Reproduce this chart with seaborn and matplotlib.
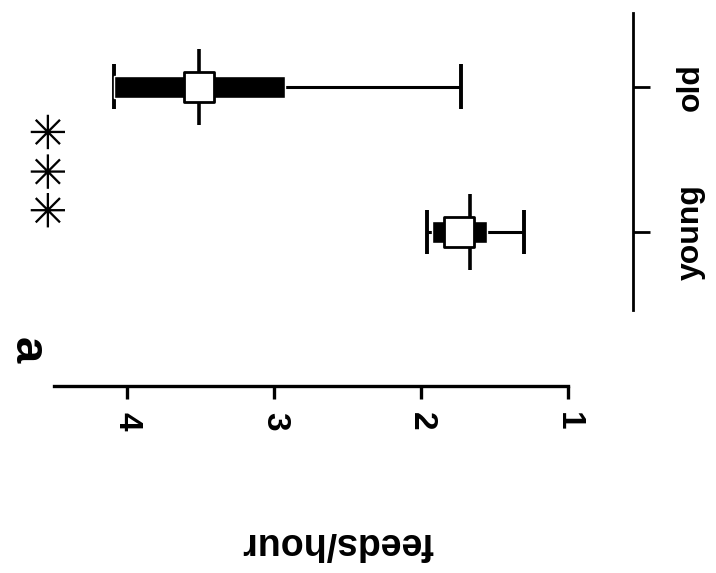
import matplotlib
matplotlib.use("Agg")
import matplotlib.pyplot as plt
import numpy as np
import pandas as pd
import seaborn as sns

# Feeding rate per group (feeds/hour)
groups = ["young", "old"]
means = [1.74, 3.51]
sds = [0.187, 0.58]
medians = [1.67, 3.51]
mins = [1.30, 1.73]
maxs = [1.96, 4.09]
value_ticks = [1, 2, 3, 4]
signif_label = "✳✳✳"
panel_label = "a"
axis_label = "feeds/hour"

df = pd.DataFrame({"group": groups, "mean": means, "sd": sds,
                   "median": medians, "min": mins, "max": maxs})
df["pos"] = np.arange(len(df))

sns.set_style("ticks")
plt.rcParams["font.family"] = ["Liberation Sans", "DejaVu Sans"]
plt.rcParams.update({"text.color": "black", "axes.edgecolor": "black",
                     "xtick.color": "black", "ytick.color": "black",
                     "axes.labelcolor": "black"})

fig = plt.figure(figsize=(7.16, 5.73), dpi=100)
ax = fig.add_axes([54 / 716, 1 - 386 / 573, (633 - 54) / 716, (386 - 13) / 573])

# range (min-max) with end caps
ax.hlines(df["pos"], df["min"], df["max"], color="black", lw=2.2, zorder=1)
ax.vlines(df["min"], df["pos"] - 0.155, df["pos"] + 0.155, color="black", lw=2.8, zorder=1)
ax.vlines(df["max"], df["pos"] - 0.155, df["pos"] + 0.155, color="black", lw=2.8, zorder=1)

# mean +/- SD band
ax.barh(df["pos"], 2 * df["sd"], left=df["mean"] - df["sd"], height=0.15,
        color="black", zorder=2)

# median line
ax.vlines(df["median"], df["pos"] - 0.26, df["pos"] + 0.26, color="black", lw=2.6, zorder=2)

# mean marker
sns.scatterplot(data=df, x="mean", y="pos", marker="s", s=440, color="white",
                edgecolor="black", linewidth=2.0, ax=ax, zorder=4, legend=False)

ax.set_xlim(4.5, 0.557)
ax.set_ylim(-1.062, 1.51)

ax.set_xticks(value_ticks)
ax.set_xticklabels([str(v) for v in value_ticks], rotation=-90,
                   fontsize=24, fontweight="bold")
ax.set_yticks(df["pos"])
ax.set_yticklabels(groups, rotation=90, fontsize=23, fontweight="bold", va="center")
ax.yaxis.tick_right()
ax.set_xlabel("")
ax.set_ylabel("")

for side in ["top", "left"]:
    ax.spines[side].set_visible(False)
ax.spines["bottom"].set_bounds(1, 4.5)
ax.spines["bottom"].set_linewidth(2.4)
ax.spines["right"].set_bounds(-0.538, 1.51)
ax.spines["right"].set_linewidth(2.0)
ax.tick_params(axis="x", direction="out", length=9, width=2.4, pad=10)
ax.tick_params(axis="y", direction="out", length=12, width=2.0, pad=19)

# significance marker
ax.text(4.52, 0.441, signif_label, rotation=90, ha="center", va="center",
        fontsize=34, family="DejaVu Sans", fontweight="bold", zorder=5)

fig.text(337 / 716, 1 - 543 / 573, axis_label, rotation=180, ha="center", va="center",
         fontsize=27, fontweight="bold")
fig.text(27 / 716, 1 - 350 / 573, panel_label, rotation=-90, ha="center", va="center",
         fontsize=34, fontweight="bold")

fig.savefig("out.png", dpi=100)
